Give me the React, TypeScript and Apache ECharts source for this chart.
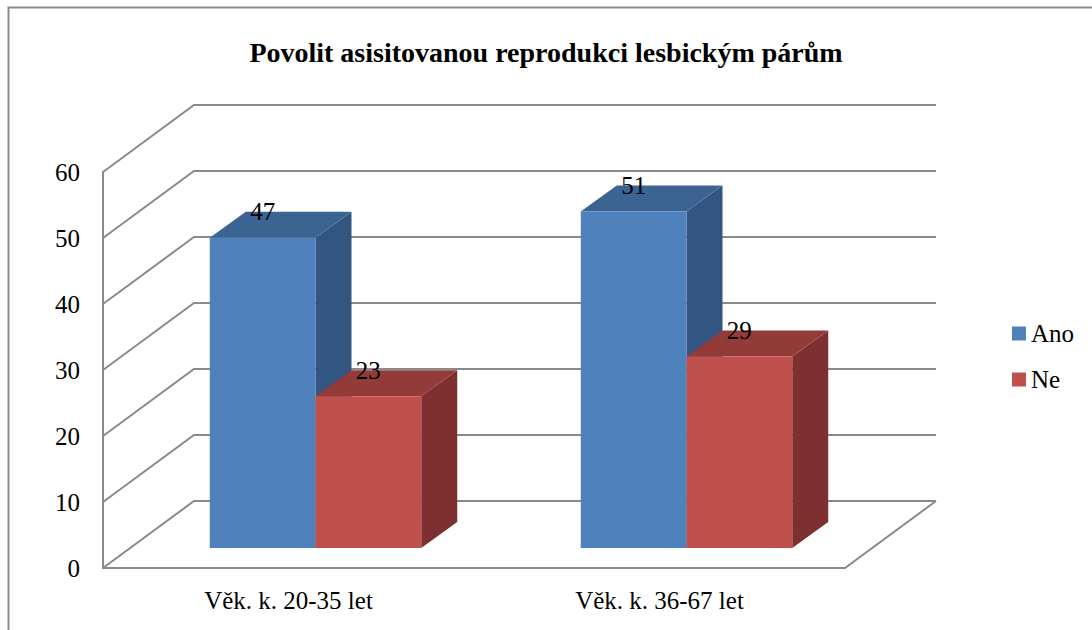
import React, { useEffect, useRef } from "react";
import * as echarts from "echarts";

const titleText = "Povolit asisitovanou reprodukci lesbickým párům";
const categories = ["Věk. k. 20-35 let", "Věk. k. 36-67 let"];
const seriesNames = ["Ano", "Ne"];
const anoValues = [47, 51];
const neValues = [23, 29];
const yTicks = [0, 10, 20, 30, 40, 50, 60];

const FONT = "'Liberation Serif', 'Times New Roman', serif";
const DEPTH_X = 91;
const DEPTH_Y = -67;
const BAR_OFF_X = 27;
const BAR_OFF_Y = -20;
const BAR_DX = 36;
const BAR_DY = -26;
const BAR_FRAC = 0.285;
const GRID_COLOR = "#8a8a8a";

const palettes = [
  { front: "#4F81BD", top: "#3C6493", side: "#325582" },
  { front: "#C0504D", top: "#923B39", side: "#7D302F" },
];

function barRender(seriesIdx: number) {
  return (params: any, api: any) => {
    const cat = api.value(0);
    const val = api.value(1);
    const base = api.coord([cat, 0]);
    const topPt = api.coord([cat, val]);
    const band = api.size([1, 0])[0];
    const w = band * BAR_FRAC;
    const xl = base[0] + BAR_OFF_X + (seriesIdx === 0 ? -w : 0);
    const xr = xl + w;
    const yb = base[1] + BAR_OFF_Y;
    const yt = topPt[1] + BAR_OFF_Y;
    const p = palettes[seriesIdx];
    return {
      type: "group",
      children: [
        {
          type: "polygon",
          shape: { points: [[xr, yt], [xr + BAR_DX, yt + BAR_DY], [xr + BAR_DX, yb + BAR_DY], [xr, yb]] },
          style: { fill: p.side },
        },
        {
          type: "polygon",
          shape: { points: [[xl, yt], [xl + BAR_DX, yt + BAR_DY], [xr + BAR_DX, yt + BAR_DY], [xr, yt]] },
          style: { fill: p.top },
        },
        {
          type: "rect",
          shape: { x: xl, y: yt, width: w, height: yb - yt },
          style: { fill: p.front },
        },
        {
          type: "text",
          x: (xl + xr) / 2,
          y: yt + BAR_DY,
          style: {
            text: String(val),
            fill: "#000",
            fontFamily: FONT,
            fontSize: 25,
            align: "center",
            verticalAlign: "middle",
          },
        },
      ],
    };
  };
}

function gridRender(params: any, api: any) {
  const v = api.value(1);
  const cs = params.coordSys;
  const y = api.coord([0, v])[1];
  const x0 = cs.x;
  const x1 = cs.x + cs.width;
  const st = { stroke: GRID_COLOR, lineWidth: 2, fill: "none" };
  const children: any[] = [
    {
      type: "polyline",
      shape: { points: [[x0, y], [x0 + DEPTH_X, y + DEPTH_Y], [x1 + DEPTH_X, y + DEPTH_Y]] },
      style: st,
    },
  ];
  if (v === yTicks[0]) {
    children.push({
      type: "polyline",
      shape: { points: [[x0, y], [x1, y], [x1 + DEPTH_X, y + DEPTH_Y]] },
      style: st,
    });
  }
  return { type: "group", children };
}

export default function App() {
  const ref = useRef<HTMLDivElement>(null);
  useEffect(() => {
    if (!ref.current) return;
    const chart = echarts.init(ref.current, undefined, { renderer: "svg" });
    chart.setOption({
      animation: false,
      backgroundColor: "#fff",
      textStyle: { fontFamily: FONT },
      title: {
        text: titleText,
        left: "center",
        top: 33,
        textStyle: { fontFamily: FONT, fontSize: 28, fontWeight: "bold", color: "#000" },
      },
      graphic: [
        {
          type: "rect",
          shape: { x: 8.5, y: 7.5, width: 1200, height: 700 },
          style: { fill: "none", stroke: "#8c8c8c", lineWidth: 2 },
          silent: true,
        },
      ],
      legend: {
        data: seriesNames,
        orient: "vertical",
        left: 1007,
        top: 316,
        itemWidth: 14,
        itemHeight: 14,
        itemGap: 21,
        icon: "rect",
        textStyle: { fontFamily: FONT, fontSize: 25, lineHeight: 25, color: "#000" },
      },
      grid: { left: 103, right: 247, top: 172, bottom: 62, containLabel: false },
      xAxis: {
        type: "category",
        data: categories,
        axisLine: { show: false },
        axisTick: { show: false },
        splitLine: { show: false },
        axisLabel: { fontFamily: FONT, fontSize: 25, lineHeight: 25, color: "#000", margin: 20 },
      },
      yAxis: {
        type: "value",
        min: 0,
        max: 60,
        interval: 10,
        axisLine: { show: true, lineStyle: { color: GRID_COLOR, width: 2 } },
        axisTick: { show: false },
        splitLine: { show: false },
        axisLabel: { fontFamily: FONT, fontSize: 25, color: "#000", margin: 23 },
      },
      series: [
        {
          type: "custom",
          silent: true,
          clip: false,
          renderItem: gridRender,
          encode: { x: 0, y: 1 },
          data: yTicks.map((v) => [0, v]),
          z: 1,
        },
        {
          name: seriesNames[0],
          type: "custom",
          silent: true,
          clip: false,
          renderItem: barRender(0),
          encode: { x: 0, y: 1 },
          itemStyle: { color: palettes[0].front },
          data: anoValues.map((v, i) => [i, v]),
          z: 2,
        },
        {
          name: seriesNames[1],
          type: "custom",
          silent: true,
          clip: false,
          renderItem: barRender(1),
          encode: { x: 0, y: 1 },
          itemStyle: { color: palettes[1].front },
          data: neValues.map((v, i) => [i, v]),
          z: 3,
        },
      ],
    });
    return () => chart.dispose();
  }, []);
  return (
    <div
      ref={ref}
      style={{ position: "absolute", left: 0, top: 0, width: 1092, height: 630, background: "#fff" }}
    />
  );
}
